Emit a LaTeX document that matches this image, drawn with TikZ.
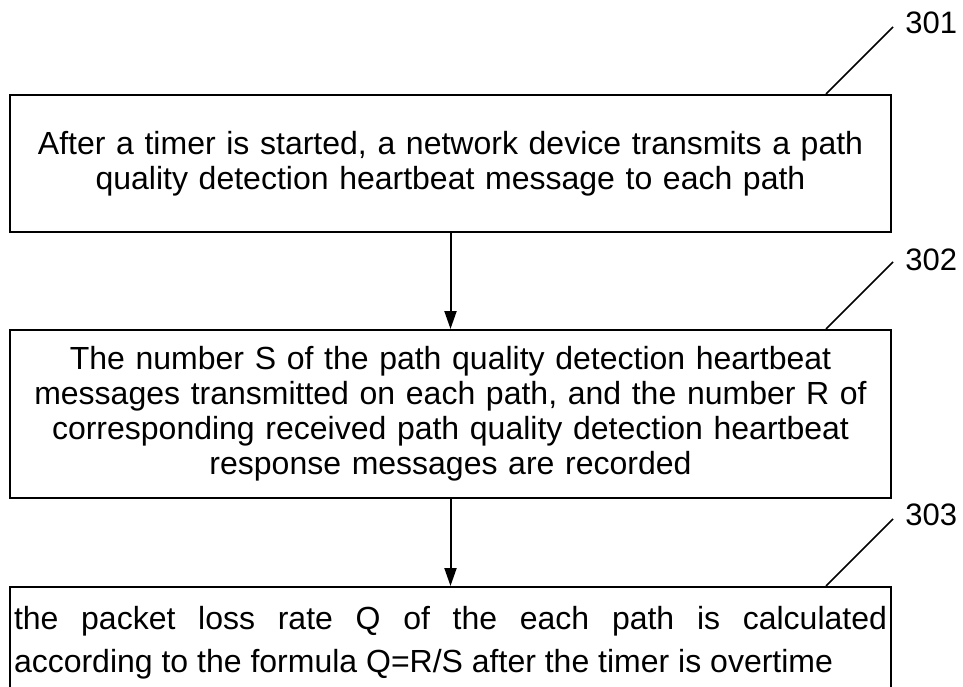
\documentclass[tikz,border=0pt]{standalone}
\usepackage{fontspec}
\setmainfont{Liberation Sans}
\usetikzlibrary{arrows.meta,positioning}

\begin{document}
\begin{tikzpicture}[x=0.5pt,y=-0.5pt,
  stepbox/.style={draw=black,line width=1pt,inner sep=2pt,text width=436.5pt,align=center,font=\fontsize{16pt}{17.5pt}\selectfont},
  flow/.style={draw=black,line width=1pt,-{Triangle[length=9pt,width=6pt]}},
  leader/.style={draw=black,line width=0.8pt},
  reflabel/.style={anchor=west,inner sep=0pt,font=\fontsize{15.5pt}{18pt}\selectfont}]
\useasboundingbox (0,0) rectangle (963,686);
\clip (0,0) rectangle (963,686);
% steps
\node[stepbox,minimum height=68.5pt] (s301) at (450.5,163.5) {After a timer is started, a network device transmits a path\\quality detection heartbeat message to each path};
\node[stepbox,minimum height=84pt] (s302) at (450.5,414) {The number S of the path quality detection heartbeat\\messages transmitted on each path, and the number R of\\corresponding received path quality detection heartbeat\\response messages are recorded};
\node[stepbox,minimum height=56pt,align=justify,font=\fontsize{16pt}{21.5pt}\selectfont] (s303) at (450.5,643) {the packet loss rate Q of the each path is calculated\linebreak according to the formula Q=R/S after the timer is overtime};
% arrows
\draw[flow] (s301.south) -- (s302.north);
\draw[flow] (s302.south) -- (s303.north);
% reference numerals
\coordinate (t301) at ([xshift=-33pt]s301.north east);
\coordinate (e301) at ([shift={(33.5pt,33.5pt)}]t301);
\node[reflabel] (l301) at ([xshift=6pt,yshift=2pt]e301) {301};
\draw[leader] (t301) -- (e301);
\coordinate (t302) at ([xshift=-33pt]s302.north east);
\coordinate (e302) at ([shift={(33.5pt,33.5pt)}]t302);
\node[reflabel] (l302) at ([xshift=6pt,yshift=1pt]e302) {302};
\draw[leader] (t302) -- (e302);
\coordinate (t303) at ([xshift=-33pt]s303.north east);
\coordinate (e303) at ([shift={(33.5pt,33.5pt)}]t303);
\node[reflabel] (l303) at ([xshift=6pt,yshift=2pt]e303) {303};
\draw[leader] (t303) -- (e303);
\end{tikzpicture}
\end{document}
